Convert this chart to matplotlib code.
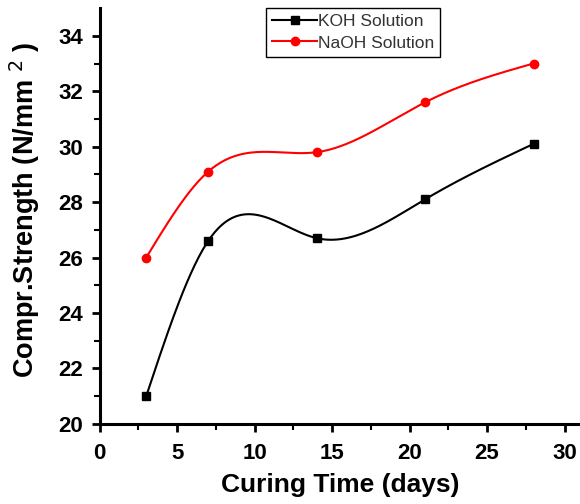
import numpy as np
import matplotlib.pyplot as plt

plt.rcParams['font.family'] = ['Liberation Sans', 'DejaVu Sans']

# Curing time (days) and compressive strength (N/mm^2)
days = [3, 7, 14, 21, 28]
koh = [21.0, 26.6, 26.7, 28.1, 30.1]
naoh = [26.0, 29.1, 29.8, 31.6, 33.0]


def spline(x, y, n=200):
    # natural cubic spline, used only to draw the smooth connecting line
    x = np.asarray(x, float)
    y = np.asarray(y, float)
    k = len(x)
    h = np.diff(x)
    A = np.zeros((k, k))
    b = np.zeros(k)
    A[0, 0] = A[-1, -1] = 1
    for i in range(1, k - 1):
        A[i, i - 1] = h[i - 1]
        A[i, i] = 2 * (h[i - 1] + h[i])
        A[i, i + 1] = h[i]
        b[i] = 6 * ((y[i + 1] - y[i]) / h[i] - (y[i] - y[i - 1]) / h[i - 1])
    M = np.linalg.solve(A, b)
    xs = np.linspace(x[0], x[-1], n)
    idx = np.clip(np.searchsorted(x, xs) - 1, 0, k - 2)
    x0, x1 = x[idx], x[idx + 1]
    hh = x1 - x0
    ys = (M[idx] * (x1 - xs) ** 3 / (6 * hh) + M[idx + 1] * (xs - x0) ** 3 / (6 * hh)
          + (y[idx] / hh - M[idx] * hh / 6) * (x1 - xs)
          + (y[idx + 1] / hh - M[idx + 1] * hh / 6) * (xs - x0))
    return xs, ys


fig = plt.figure(figsize=(5.8, 5.04), dpi=100)
ax = fig.add_axes([0.172, 0.159, 0.828, 0.825])

for yv, col, mk, lab in [(koh, 'black', 's', 'KOH Solution'),
                         (naoh, 'red', 'o', 'NaOH Solution')]:
    xs, ys = spline(days, yv)
    ax.plot(xs, ys, color=col, linewidth=1.5)
    ax.plot(days, yv, linestyle='none', marker=mk, color=col, markersize=6)
    ax.plot([], [], color=col, marker=mk, markersize=6, linewidth=1.5, label=lab)

ax.set_xlim(0, 31)
ax.set_ylim(20, 35)
ax.set_xticks([0, 5, 10, 15, 20, 25, 30])
ax.set_xticks(np.arange(2.5, 31, 5), minor=True)
ax.set_yticks([20, 22, 24, 26, 28, 30, 32, 34])
ax.set_yticks(np.arange(21, 35, 2), minor=True)

for s in ['top', 'right']:
    ax.spines[s].set_visible(False)
for s in ['left', 'bottom']:
    ax.spines[s].set_linewidth(2.2)

ax.tick_params(which='major', length=6, width=2, direction='out', labelsize=16)
ax.tick_params(axis='y', which='major', pad=6)
ax.tick_params(axis='x', which='major', pad=8)
ax.tick_params(which='minor', length=4, width=1.5, direction='out')
for t in ax.get_xticklabels() + ax.get_yticklabels():
    t.set_fontweight('bold')

ax.set_xlabel('Curing Time (days)', fontsize=19, fontweight='bold', labelpad=6)
ax.set_ylabel('Compr.Strength (N/mm $^{2}$ )', fontsize=19.5, fontweight='bold')
ax.yaxis.set_label_coords(-0.12, 0.515)

leg = ax.legend(loc='upper left', bbox_to_anchor=(0.346, 1.0), borderaxespad=0,
                fontsize=12.5, fancybox=False, framealpha=1, edgecolor='black',
                handlelength=2.6, handletextpad=0.05, borderpad=0.35, labelspacing=0.35)
leg.get_frame().set_linewidth(1.0)
for t in leg.get_texts():
    t.set_color('#333333')

fig.savefig('out.png', dpi=100)
